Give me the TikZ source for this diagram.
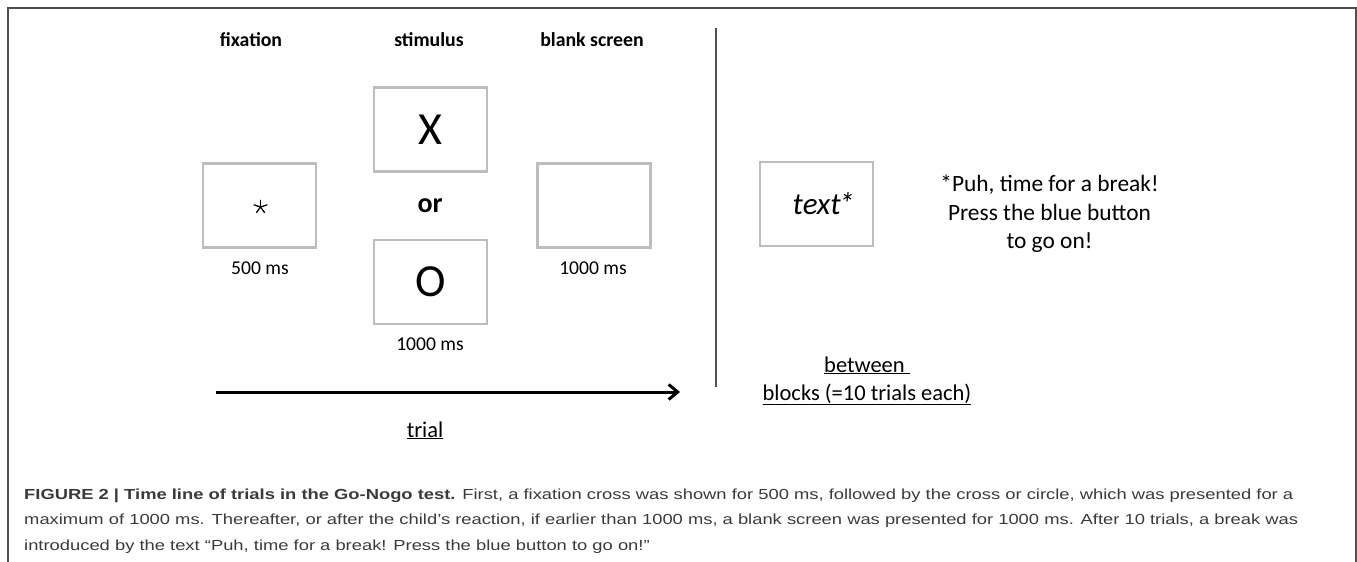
\documentclass[tikz,border=0pt]{standalone}
\usepackage{fontspec}
\setmainfont{Carlito}
\newfontfamily\capfont{Liberation Sans}
\usetikzlibrary{arrows.meta}
\definecolor{boxgray}{HTML}{BDBDBD}
\definecolor{framegray}{HTML}{505050}
\definecolor{capgray}{HTML}{3A3A3A}
\newcommand{\fsz}[1]{\fontsize{#1}{#1}\selectfont}
\newcommand{\capstretch}[1]{\scalebox{1.258}[1]{#1}}
\begin{document}
\begin{tikzpicture}[x=1pt,y=-1pt,
  screen/.style={draw=boxgray, line width=2.5pt, minimum width=113pt, minimum height=84pt, inner sep=0pt},
  lab/.style={font=\fsz{19.8}\bfseries, inner sep=0pt},
  dur/.style={font=\fsz{19.6}, inner sep=0pt},
  under/.style={font=\fsz{22.5}, inner sep=0pt, anchor=base},
  capline/.style={font=\capfont\fsz{14.6}, text=capgray, anchor=base west, inner sep=0pt},
  stararm/.style={line width=1.3pt, line cap=round}]
\useasboundingbox (0,0) rectangle (1357,562);
% frame
\draw[framegray, line width=1.6pt] (8,563) -- (8,8) -- (1356,8) -- (1356,563);
% titles
\node[lab] (tfix) at (251,40) {fixation};
\node[lab] (tstim) at (429,40) {stimulus};
\node[lab] (tblank) at (592,40) {blank screen};
% screens
\node[screen] (fix) at (259.5,205.5) {};
\coordinate (starc) at (260.5,207);
\foreach \a in {-90,-18,-162,54,126}{\draw[stararm] (starc) -- ++(\a:6.8);}
\node[screen, font=\fsz{46}] (sx) at (430.5,129.5) {X};
\node[font=\fsz{28}\bfseries, inner sep=0pt] (or) at (430,206) {or};
\node[screen, font=\fsz{46}] (so) at (430.5,282) {O};
\node[screen] (blank) at (594,205.5) {};
\node[screen, font=\fsz{31}\itshape] (txt) at (816.5,204) {\hspace{14pt}text\kern-2pt*};
% durations
\node[dur] (d1) at (260,268) {500 ms};
\node[dur] (d2) at (430,344) {1000 ms};
\node[dur] (d3) at (593,268) {1000 ms};
% break text
\node[font=\fontsize{23.4}{28.5}\selectfont, align=center, inner sep=0pt] (brk) at (1049.5,214) {*Puh, time for a break!\\Press the blue button\\to go on!};
% divider
\coordinate (vtop) at (716,28);
\coordinate (vbot) at (716,387);
\draw[framegray, line width=1.5pt] (vtop) -- (vbot);
% time arrow
\coordinate (astart) at (216,392);
\coordinate (aend) at (680,392);
\draw[line width=3pt, -{Straight Barb[length=9pt,width=15pt,line width=3pt]}] (astart) -- (aend);
\node[under] (trial) at (425,437) {\underline{trial}};
\node[under] (betw) at (867,372) {\underline{between\ }};
\node[under] (blocks) at (867,400) {\underline{blocks (=10 trials each)}};
% caption
\node[capline] (c1) at (24,499) {\capstretch{\textbf{FIGURE 2 | Time line of trials in the Go-Nogo test.} First, a fixation cross was shown for 500 ms, followed by the cross or circle, which was presented for a}};
\node[capline] (c2) at (24,524.5) {\capstretch{maximum of 1000 ms. Thereafter, or after the child’s reaction, if earlier than 1000 ms, a blank screen was presented for 1000 ms. After 10 trials, a break was}};
\node[capline] (c3) at (24,550) {\capstretch{introduced by the text “Puh, time for a break! Press the blue button to go on!”}};
\end{tikzpicture}
\end{document}
